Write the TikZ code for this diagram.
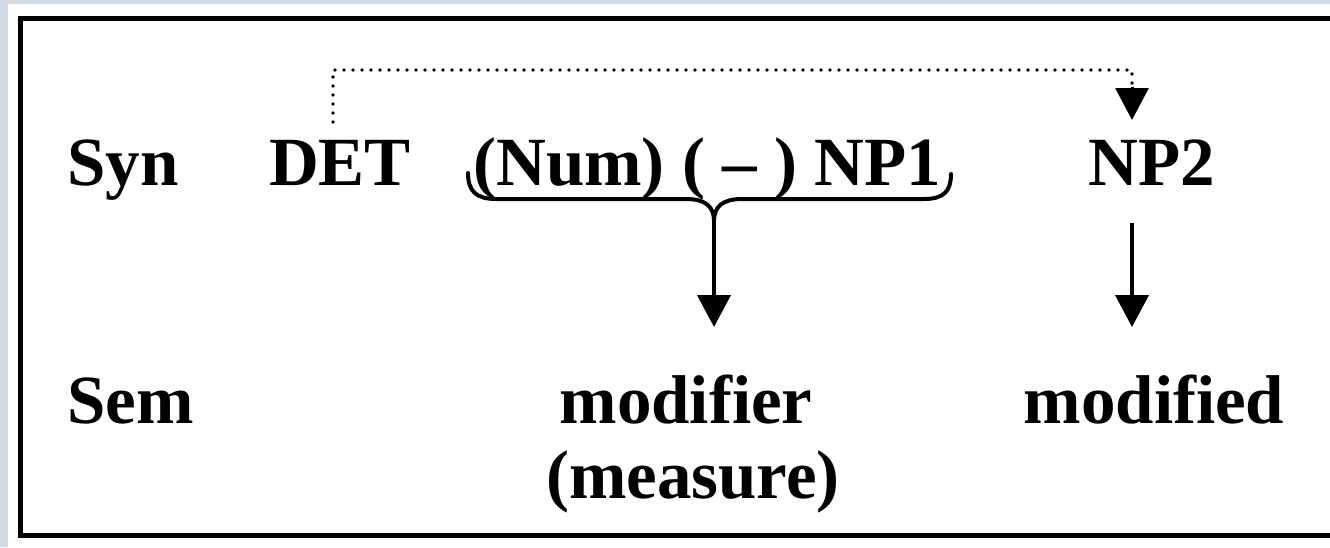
\documentclass[tikz,border=0pt]{standalone}
\usepackage{fontspec}
\setmainfont{Liberation Serif}
\usetikzlibrary{arrows.meta}
\definecolor{pagebg}{HTML}{D3DCE5}
\tikzset{
  lbl/.style={inner sep=0pt, font=\fontsize{69}{80}\selectfont\bfseries},
  solidline/.style={line width=4pt},
  dotline/.style={line width=3.8pt, line cap=round, dash pattern=on 0pt off 9pt},
  bigtip/.style={-{Triangle[width=33pt,length=32pt]}},
}
\begin{document}
\begin{tikzpicture}[x=1pt,y=-1pt]
  \useasboundingbox (0,0) rectangle (1330,547);
  \clip (0,0) rectangle (1330,547);
  % page and frame
  \fill[pagebg] (0,0) rectangle (1330,547);
  \fill[white] (8,4) rectangle (1330,547);
  \draw[line width=5pt] (1340,18.5) -- (20.5,18.5) -- (20.5,535) -- (1340,535);

  % syntactic row
  \node[lbl, anchor=base west] (syn) at (67,185) {Syn};
  \node[lbl, anchor=base] (det) at (340,185) {DET};
  \node[lbl, anchor=base] (np1) at (707,185) {(Num) ( – ) NP1};
  \node[lbl, anchor=base] (np2) at (1152,185) {NP2};

  % semantic row
  \node[lbl, anchor=base west] (sem) at (67,423) {Sem};
  \node[lbl, anchor=base] (modr) at (686,423) {modifier};
  \node[lbl, anchor=base] (meas) at (693,498) {(measure)};
  \node[lbl, anchor=base] (modd) at (1154,423) {modified};

  % connector points
  \coordinate (detTop) at (333,122);
  \coordinate (np2In) at (1132,120);
  \coordinate (cusp) at (714,221);
  \coordinate (modTip) at (714,327);
  \coordinate (np2Out) at (1132,223);
  \coordinate (moddTip) at (1132,327);

  % DET relates to NP2
  \draw[dotline] (detTop) -- (333,70) -| (1132,86);
  \draw[bigtip, line width=3pt] (1132,87) -- (np2In);

  % brace under (Num) ( – ) NP1
  \draw[solidline, line cap=round]
    (468,173) .. controls (468,191) and (476,199) .. (496,199)
    -- (686,199) .. controls (706,199) and (714,207) .. (cusp)
    .. controls (714,207) and (722,199) .. (742,199)
    -- (924,199) .. controls (944,199) and (951,191) .. (951,174);

  % mappings from syntax to semantics
  \draw[solidline, bigtip] (cusp) -- (modTip);
  \draw[solidline, bigtip] (np2Out) -- (moddTip);
\end{tikzpicture}
\end{document}
